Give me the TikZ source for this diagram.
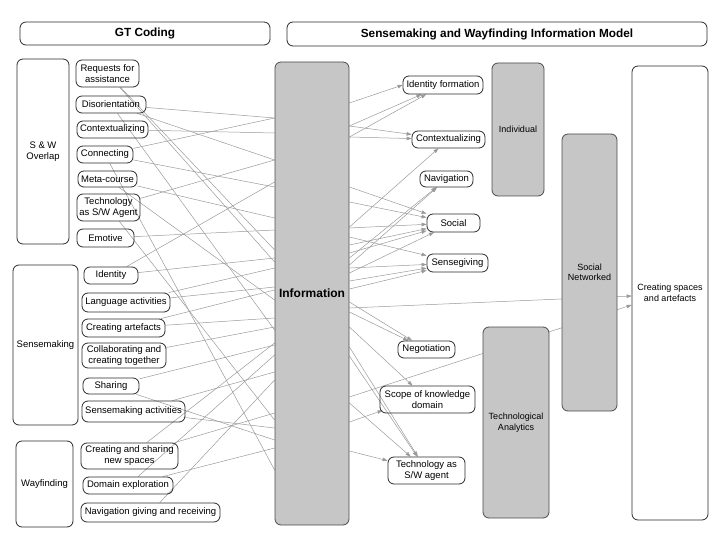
\documentclass[tikz,border=0pt]{standalone}
\usepackage{fontspec}
\setmainfont{Liberation Sans}
\usetikzlibrary{arrows.meta}
\pgfdeclarelayer{bg}
\pgfsetlayers{bg,main}
\definecolor{boxgray}{HTML}{C6C6C6}
\definecolor{edgecol}{HTML}{2B2B2B}
\definecolor{conncol}{HTML}{9A9A9A}
\newcommand\bnode[7]{\node[#1, minimum width={(#5-#3)*1pt}, minimum height={(#6-#4)*1pt}] (#2) at ({(#3+#5)/2},{(#4+#6)/2}) {#7};}
\begin{document}
\begin{tikzpicture}[x=1pt,y=-1pt,
  every node/.style={font=\fontsize{9.5}{11}\selectfont, align=center, inner sep=0pt, anchor=center},
  bx/.style={draw=edgecol, line width=0.8pt, rounded corners=6pt},
  gbx/.style={bx, fill=boxgray, draw=black!70},
  hdr/.style={bx, font=\bfseries\fontsize{11.8}{14}\selectfont},
  ln/.style={draw=conncol, line width=0.5pt},
  ar/.style={ln, color=conncol, -{Triangle[length=5pt,width=3.6pt]}}]
\useasboundingbox (0,0) rectangle (720,540);

% headers
\bnode{hdr}{gt}{20}{22}{270}{45}{GT Coding}
\bnode{hdr}{swim}{287}{22}{707}{46}{Sensemaking and Wayfinding Information Model}

% left groups
\bnode{bx}{gov}{17}{59}{69}{244}{S \& W\\Overlap}
\bnode{bx}{gsm}{13}{265}{78}{425}{Sensemaking}
\bnode{bx}{gwf}{16}{441}{73}{527}{Wayfinding}

% left codes
\bnode{bx}{req}{76}{60}{139}{87}{Requests for\\assistance}
\bnode{bx}{dis}{76}{96}{146}{113}{Disorientation}
\bnode{bx}{ctxl}{77}{121}{148}{138}{Contextualizing}
\bnode{bx}{conn}{77}{146}{133}{163}{Connecting}
\bnode{bx}{meta}{78}{171}{137}{187}{Meta-course}
\bnode{bx}{tsw}{77}{194}{140}{221}{Technology\\as S/W Agent}
\bnode{bx}{emo}{77}{229}{134}{247}{Emotive}
\bnode{bx}{idn}{84}{267}{138}{284}{Identity}
\bnode{bx}{lang}{82}{293}{170}{312}{Language activities}
\bnode{bx}{art}{82}{319}{165}{337}{Creating artefacts}
\bnode{bx}{col}{82}{343}{166}{368}{Collaborating and\\creating together}
\bnode{bx}{shr}{83}{378}{139}{394}{Sharing}
\bnode{bx}{smk}{82}{401}{185}{422}{Sensemaking activities}
\bnode{bx}{new}{81}{443}{178}{469}{Creating and sharing\\new spaces}
\bnode{bx}{dom}{83}{477}{173}{494}{Domain exploration}
\bnode{bx}{ngr}{81}{503}{220}{522}{Navigation giving and receiving}

% information
\bnode{gbx, font=\bfseries\fontsize{12}{14}\selectfont}{info}{275}{62}{349}{525}{Information}

% right codes
\bnode{bx}{idf}{403}{76}{483}{94}{Identity formation}
\bnode{bx}{ctx}{412}{131}{485}{148}{Contextualizing}
\bnode{bx}{nav}{420}{171}{473}{187}{Navigation}
\bnode{bx}{soc}{427}{214}{480}{232}{Social}
\bnode{bx}{sg}{427}{254}{488}{272}{Sensegiving}
\bnode{bx}{neg}{398}{341}{455}{358}{Negotiation}
\bnode{bx}{scope}{380}{386}{475}{413}{Scope of knowledge\\domain}
\bnode{bx}{tag}{388}{457}{465}{484}{Technology as\\S/W agent}

% model boxes
\bnode{gbx, font=\fontsize{9}{10.5}\selectfont}{ind}{492}{63}{544}{196}{Individual}
\bnode{gbx, font=\fontsize{9}{10.5}\selectfont}{sn}{562}{134}{617}{411}{Social\\Networked}
\bnode{gbx, font=\fontsize{9}{10.5}\selectfont}{ta}{483}{327}{549}{518}{Technological\\Analytics}
\bnode{bx, font=\fontsize{9}{10.5}\selectfont}{csa}{632}{66}{708}{520}{Creating spaces\\and artefacts}

\begin{pgfonlayer}{bg}
% left connectors into the information box
\foreach \n/\y in {req/250, req/262, dis/118, dis/160, dis/330, ctxl/133,
  conn/118, conn/187, conn/470, meta/218, meta/300, tsw/160, tsw/420,
  emo/230, idn/258, idn/182, lang/287, lang/268, art/318, art/290,
  col/327, shr/440, shr/345, smk/428, smk/372, new/413, new/343,
  dom/448, dom/355, ngr/380}
  \draw[ln] (\n) -- (info.west |- 0,\y);
% right connectors out of the information box
\foreach \y/\t in {103/idf.west, 126/idf, 137/idf, 126/ctx, 137/ctx,
  187/soc, 202/soc, 227/ctx, 228/soc, 237/sg, 245/soc, 253/soc,
  258/nav, 265/nav, 268/sg, 273/soc, 281/sg, 289/sg,
  302/neg, 312/neg, 327/scope, 347/tag, 356/tag, 403/tag, 451/tag}
  \draw[ar] (info.east |- 0,\y) -- (\t);
\draw[ar] (info.east |- 0,422) -- ([xshift=3pt,yshift=3pt]scope.south west);
\draw[ar] (info.east |- 0,308) -- (csa.west |- 0,296);
\draw[ar] (info.east |- 0,397) -- (csa.west |- 0,305);
\end{pgfonlayer}
\end{tikzpicture}
\end{document}
